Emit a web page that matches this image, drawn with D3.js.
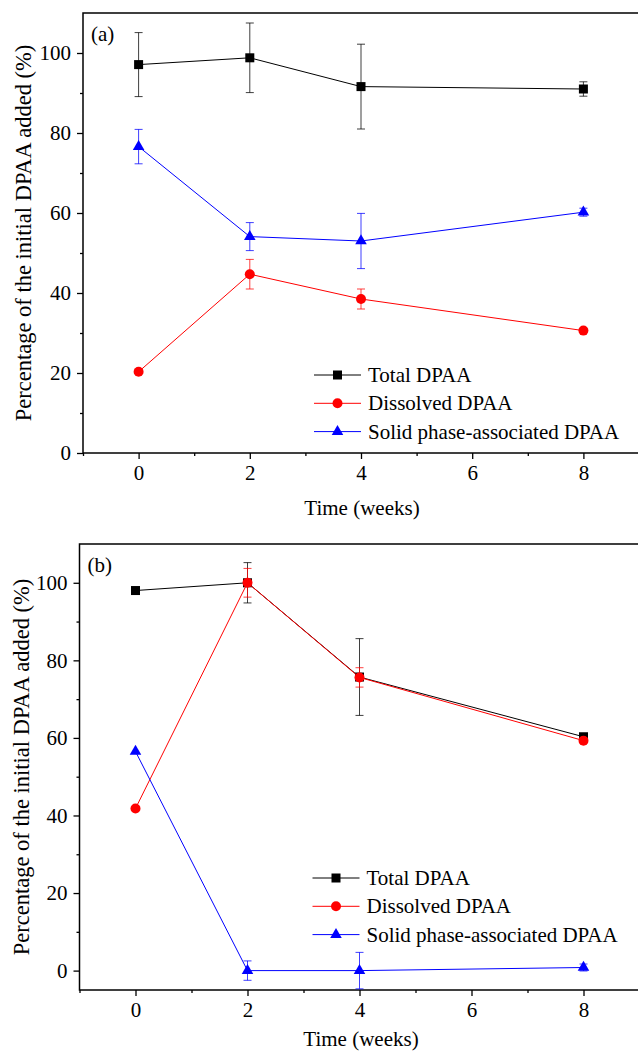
<!DOCTYPE html>
<html>
<head>
<meta charset="utf-8">
<script src="https://cdn.jsdelivr.net/npm/d3@7"></script>
<style>
  body { margin: 0; background: #fff; }
  svg { display: block; }
</style>
</head>
<body>
<svg id="chart" width="638" height="1052"></svg>
<script>
// Data
const weeks = [0, 2, 4, 8];
const seriesNames = ["Total DPAA", "Dissolved DPAA", "Solid phase-associated DPAA"];

// panel (a)
const totalA = [97.1, 98.8, 91.6, 91.0];
const totalAErr = [8.0, 8.7, 10.6, 1.8];
const dissolvedA = [20.3, 44.7, 38.5, 30.6];
const dissolvedAErr = [0, 3.7, 2.5, 0];
const solidA = [76.6, 54.1, 53.0, 60.2];
const solidAErr = [4.3, 3.5, 6.9, 1.0];

// panel (b)
const totalB = [98.0, 100.0, 75.7, 60.3];
const totalBErr = [0, 5.2, 9.9, 0];
const dissolvedB = [41.8, 100.0, 75.6, 59.3];
const dissolvedBErr = [0, 3.7, 2.5, 0.6];
const solidB = [56.5, 0, 0, 0.8];
const solidBErr = [0, 2.5, 4.7, 0.9];

const xTicks = [0, 2, 4, 6, 8];
const xMinor = [-1, 1, 3, 5, 7];
const yTicks = [0, 20, 40, 60, 80, 100];
const yMinor = [10, 30, 50, 70, 90];

const colors = ["#000000", "#ff0000", "#0000ff"];
const shapes = ["square", "circle", "triangle"];
const FONT = "Liberation Serif";

const svg = d3.select("#chart").attr("font-family", FONT);

function drawMarker(g, shape, color, x, y) {
  if (shape === "square") {
    g.append("rect").attr("x", x - 4.5).attr("y", y - 4.5)
      .attr("width", 9).attr("height", 9).attr("fill", color);
  } else if (shape === "circle") {
    g.append("circle").attr("cx", x).attr("cy", y).attr("r", 5).attr("fill", color);
  } else {
    g.append("path")
      .attr("d", d3.symbol().type(d3.symbolTriangle).size(58)())
      .attr("transform", `translate(${x},${y})`)
      .attr("fill", color);
  }
}

function drawPanel(cfg) {
  const x = d3.scaleLinear().domain([-1, 9]).range([cfg.left, cfg.right]);
  const y = d3.scaleLinear().domain(cfg.yDomain).range([cfg.bottom, cfg.top]);
  const g = svg.append("g");

  const clipId = "clip-" + cfg.id;
  g.append("clipPath").attr("id", clipId)
    .append("rect").attr("x", cfg.left).attr("y", cfg.top)
    .attr("width", cfg.right - cfg.left).attr("height", cfg.bottom - cfg.top);

  // axes, major and minor ticks pointing outward
  g.append("g").attr("transform", `translate(0,${cfg.bottom})`)
    .call(d3.axisBottom(x).tickValues(xTicks).tickSize(6).tickPadding(6).tickFormat(d3.format("d")));
  g.append("g").attr("transform", `translate(0,${cfg.bottom})`)
    .call(d3.axisBottom(x).tickValues(xMinor).tickSize(3).tickFormat(""));
  g.append("g").attr("transform", `translate(${cfg.left},0)`)
    .call(d3.axisLeft(y).tickValues(yTicks).tickSize(6).tickPadding(6).tickFormat(d3.format("d")));
  g.append("g").attr("transform", `translate(${cfg.left},0)`)
    .call(d3.axisLeft(y).tickValues(yMinor).tickSize(3).tickFormat(""));

  g.selectAll(".domain").remove();
  g.selectAll("g").attr("font-family", FONT);
  g.selectAll(".tick line").attr("stroke", "#000").attr("stroke-width", 1.3);
  g.selectAll(".tick text").attr("font-size", 21).attr("font-family", FONT).attr("fill", "#000");

  // frame
  g.append("rect")
    .attr("x", cfg.left).attr("y", cfg.top)
    .attr("width", cfg.right - cfg.left).attr("height", cfg.bottom - cfg.top)
    .attr("fill", "none").attr("stroke", "#000").attr("stroke-width", 1.5);

  // series: line, error bars, markers
  const plot = g.append("g").attr("clip-path", `url(#${clipId})`);
  cfg.series.forEach((s, i) => {
    const pts = weeks.map((w, j) => ({ w: w, v: s.values[j], e: s.err[j] }));
    plot.append("path")
      .datum(pts)
      .attr("fill", "none")
      .attr("stroke", colors[i])
      .attr("stroke-width", 1)
      .attr("d", d3.line().x(d => x(d.w)).y(d => y(d.v)));
    pts.filter(d => d.e > 0).forEach(d => {
      const cx = x(d.w);
      plot.append("line").attr("x1", cx).attr("x2", cx)
        .attr("y1", y(d.v - d.e)).attr("y2", y(d.v + d.e))
        .attr("stroke", colors[i]).attr("stroke-width", 1).attr("opacity", 0.75);
      [d.v - d.e, d.v + d.e].forEach(v => {
        plot.append("line").attr("x1", cx - 4).attr("x2", cx + 4)
          .attr("y1", y(v)).attr("y2", y(v))
          .attr("stroke", colors[i]).attr("stroke-width", 1).attr("opacity", 0.75);
      });
    });
    pts.forEach(d => drawMarker(plot, shapes[i], colors[i], x(d.w), y(d.v)));
  });

  // panel label
  g.append("text").attr("x", cfg.left + 8).attr("y", cfg.top + 28)
    .attr("font-family", FONT).attr("font-size", 21).text(cfg.label);

  // axis titles
  g.append("text")
    .attr("x", cfg.xTitleX).attr("y", cfg.xTitleY)
    .attr("text-anchor", "middle").attr("font-family", FONT).attr("font-size", 21)
    .text("Time (weeks)");
  g.append("text")
    .attr("transform", `translate(${cfg.yTitleX},${(cfg.top + cfg.bottom) / 2}) rotate(-90)`)
    .attr("text-anchor", "middle").attr("font-family", FONT).attr("font-size", 22.5)
    .text("Percentage of the initial DPAA added (%)");

  // legend
  const leg = g.append("g").attr("transform", `translate(${cfg.legendX},${cfg.legendY})`);
  seriesNames.forEach((name, i) => {
    const row = leg.append("g").attr("transform", `translate(0,${i * 28.3})`);
    row.append("line").attr("x1", 0).attr("x2", 47).attr("y1", 0).attr("y2", 0)
      .attr("stroke", colors[i]).attr("stroke-width", 1);
    drawMarker(row, shapes[i], colors[i], 23.5, 0);
    row.append("text").attr("x", 54).attr("y", 7)
      .attr("font-family", FONT).attr("font-size", 21).text(name);
  });
}

drawPanel({
  id: "a", label: "(a)",
  left: 83, right: 639, top: 13, bottom: 453,
  yDomain: [0, 110],
  xTitleX: 362, xTitleY: 515, yTitleX: 31,
  legendX: 314, legendY: 375,
  series: [
    { values: totalA, err: totalAErr },
    { values: dissolvedA, err: dissolvedAErr },
    { values: solidA, err: solidAErr }
  ]
});

drawPanel({
  id: "b", label: "(b)",
  left: 79.5, right: 639.5, top: 544, bottom: 990,
  yDomain: [-5, 110],
  xTitleX: 361, xTitleY: 1046, yTitleX: 29,
  legendX: 312.5, legendY: 878,
  series: [
    { values: totalB, err: totalBErr },
    { values: dissolvedB, err: dissolvedBErr },
    { values: solidB, err: solidBErr }
  ]
});
</script>
</body>
</html>
